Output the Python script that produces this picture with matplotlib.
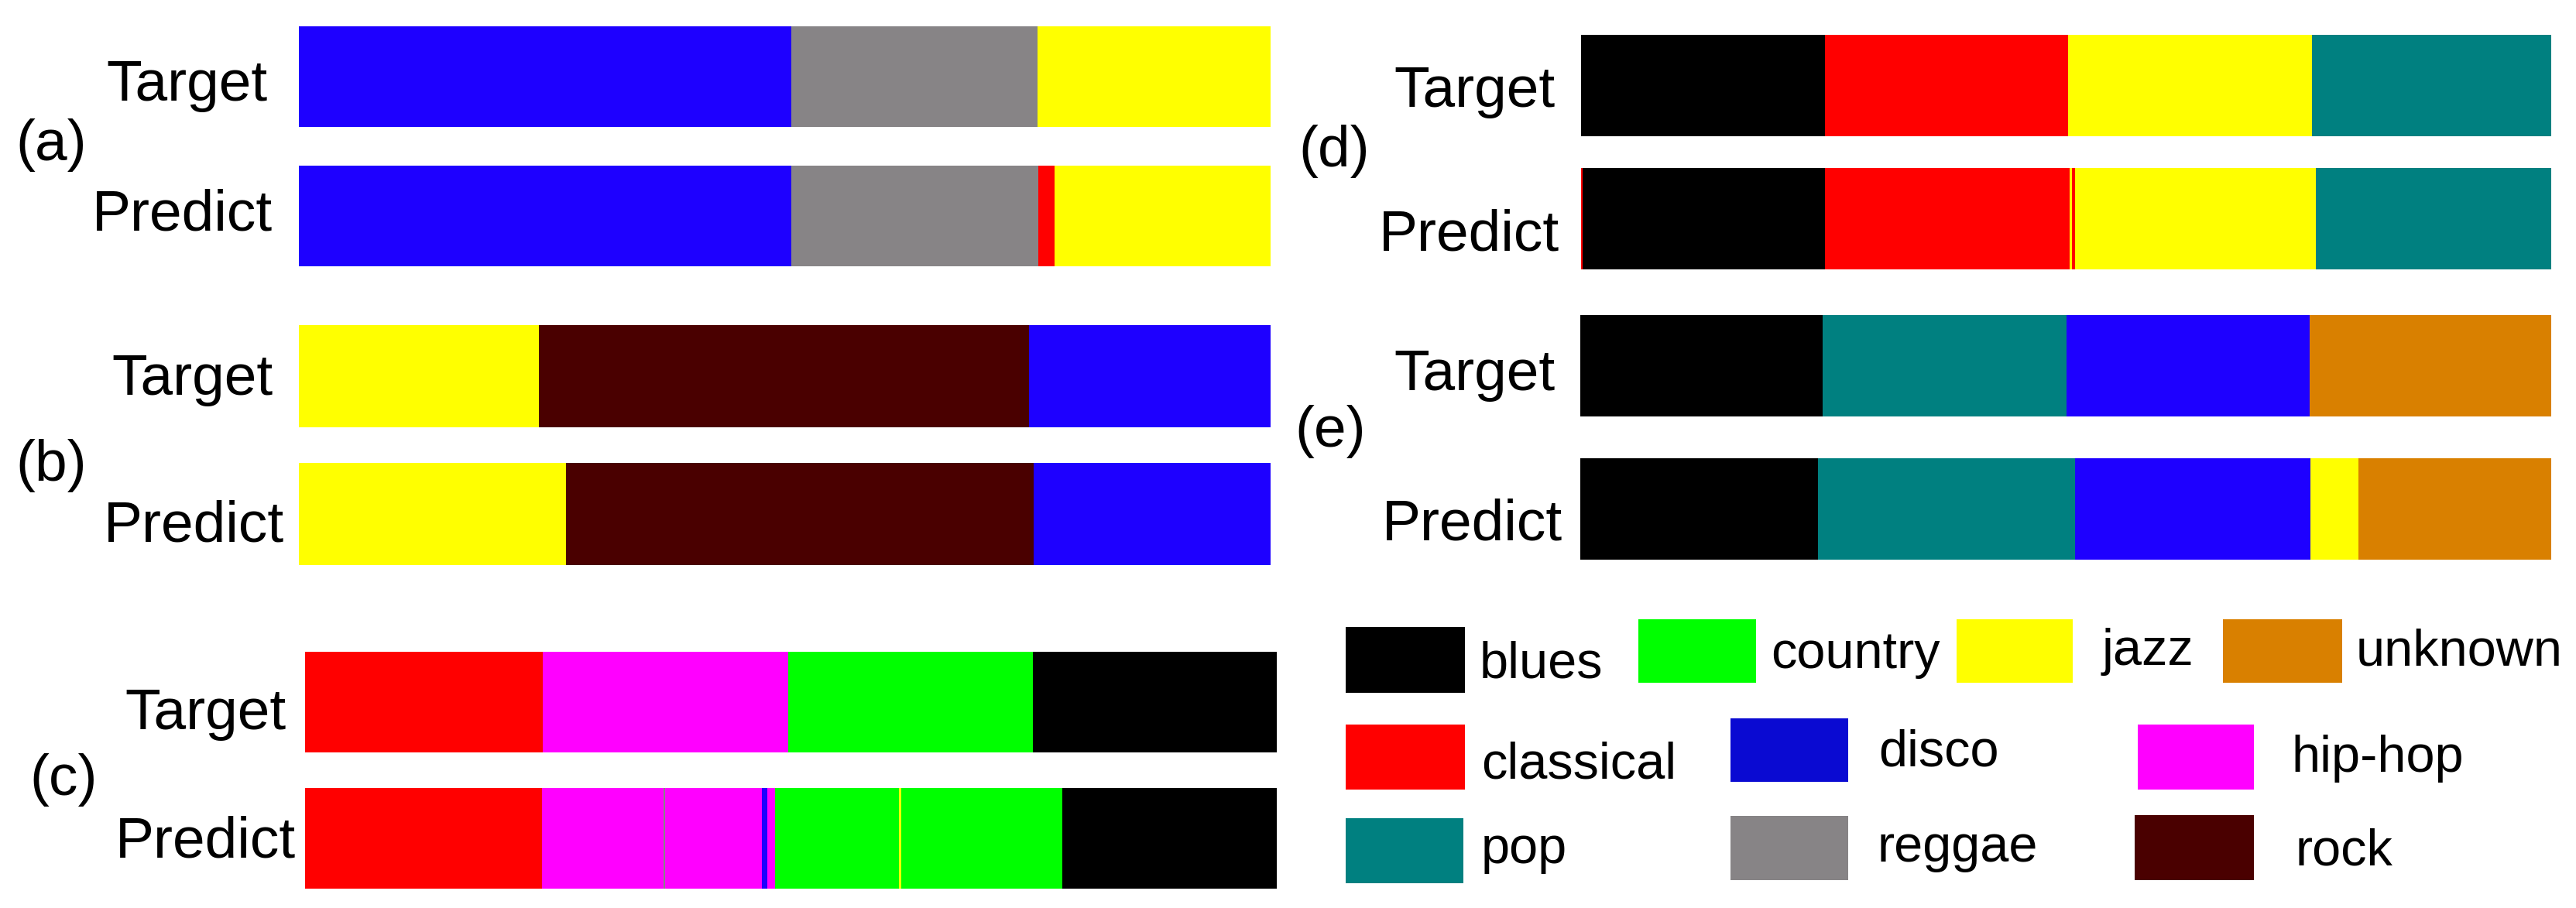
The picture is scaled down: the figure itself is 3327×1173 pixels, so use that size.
import matplotlib.pyplot as plt
from matplotlib.patches import Rectangle

plt.rcParams['font.family'] = ['Liberation Sans', 'DejaVu Sans']

W, H = 3327, 1173

# genre colours
genres = ['blues', 'country', 'jazz', 'unknown', 'classical', 'disco',
          'hip-hop', 'pop', 'reggae', 'rock']
bar_colors = ['#000000', '#00FF00', '#FFFF00', '#D98000', '#FF0000', '#1E00FF',
              '#FF00FF', '#008080', '#878486', '#4A0000']
legend_colors = ['#000000', '#00FF00', '#FFFF00', '#D98000', '#FF0000', '#0A0AD2',
                 '#FF00FF', '#008080', '#878486', '#4A0000']

# segments left to right: (genre, share of the clip in %)
a_target = [('disco', 50.7), ('reggae', 25.3), ('jazz', 24.0)]
a_predict = [('disco', 50.7), ('reggae', 25.4), ('classical', 1.7), ('jazz', 22.2)]
b_target = [('jazz', 24.7), ('rock', 50.4), ('disco', 24.9)]
b_predict = [('jazz', 27.5), ('rock', 48.1), ('disco', 24.4)]
c_target = [('classical', 24.5), ('hip-hop', 25.2), ('country', 25.2), ('blues', 25.1)]
c_predict = [('classical', 24.4), ('hip-hop', 12.5), ('reggae', 0.15), ('hip-hop', 9.9),
             ('disco', 0.6), ('hip-hop', 0.8), ('country', 12.7), ('jazz', 0.3),
             ('country', 16.5), ('blues', 22.1)]
d_target = [('blues', 25.1), ('classical', 25.1), ('jazz', 25.1), ('pop', 24.7)]
d_predict = [('classical', 0.16), ('blues', 24.96), ('classical', 25.3), ('jazz', 0.24),
             ('classical', 0.32), ('jazz', 24.8), ('pop', 24.3)]
e_target = [('blues', 25.0), ('pop', 25.1), ('disco', 25.1), ('unknown', 24.9)]
e_predict = [('blues', 24.5), ('pop', 26.5), ('disco', 24.3), ('jazz', 4.9), ('unknown', 19.9)]

panels = ['(a)', '(b)', '(c)', '(d)', '(e)']
rows = [(a_target, a_predict), (b_target, b_predict), (c_target, c_predict),
        (d_target, d_predict), (e_target, e_predict)]

# layout in pixels: x0, x1, target top, target bottom, predict top, predict bottom
boxes = [(386, 1641, 34, 164, 213, 344),
         (386, 1641, 420, 552, 598, 730),
         (394, 1649, 842, 972, 1018, 1148),
         (2042, 3295, 45, 177, 217, 348),
         (2041, 3295, 407, 538, 592, 723)]
# right edge / baseline of the row names
name_pos = [((345, 130), (352, 298)),
            ((352, 510), (367, 700)),
            ((369, 942), (382, 1108)),
            ((2008, 138), (2014, 324)),
            ((2008, 504), (2018, 698))]
# left edge / vertical centre of the panel letters
letter_pos = [(20, 187), (20, 602), (38, 1007), (1677, 195), (1672, 558)]

color_of = dict(zip(genres, bar_colors))


def fx(x):
    return x / W


def fy(y):
    return 1 - y / H


fig = plt.figure(figsize=(W / 100, H / 100), dpi=100)

for label, (target, predict), box, names, lp in zip(panels, rows, boxes, name_pos, letter_pos):
    x0, x1, tt, tb, pt, pb = box
    ax = fig.add_axes([fx(x0), fy(pb), (x1 - x0) / W, (pb - tt) / H])
    dist = (pt + pb) / 2 - (tt + tb) / 2
    h = ((tb - tt) + (pb - pt)) / 2 / dist
    for i, segs in enumerate([target, predict]):
        total = sum(v for _, v in segs)
        widths = [v / total * 100 for _, v in segs]
        lefts = [sum(widths[:k]) for k in range(len(widths))]
        ax.barh([i] * len(segs), widths, left=lefts, height=h,
                color=[color_of[g] for g, _ in segs], linewidth=0)
    ax.set_xlim(0, 100)
    ax.set_ylim(1 + h / 2, -h / 2)
    ax.axis('off')

    for txt, (rx, by) in zip(['Target', 'Predict'], names):
        fig.text(fx(rx), fy(by), txt, ha='right', va='baseline', fontsize=54)
    fig.text(fx(lp[0]), fy(lp[1]), label, ha='left', va='center', fontsize=54)

# legend, laid out like the original (patch box, text left, text baseline)
legend_layout = {
    'blues': ((1738, 1892, 810, 895), 1911, 875),
    'country': ((2116, 2268, 800, 882), 2287, 863),
    'jazz': ((2527, 2677, 800, 882), 2715, 859),
    'unknown': ((2871, 3025, 800, 882), 3043, 859),
    'classical': ((1738, 1892, 936, 1020), 1913, 1005),
    'disco': ((2235, 2387, 928, 1010), 2426, 990),
    'hip-hop': ((2761, 2911, 936, 1020), 2959, 997),
    'pop': ((1738, 1890, 1057, 1141), 1913, 1115),
    'reggae': ((2235, 2387, 1054, 1137), 2424, 1113),
    'rock': ((2757, 2911, 1053, 1137), 2964, 1117),
}
for g, c in zip(genres, legend_colors):
    (px0, px1, py0, py1), tx, ty = legend_layout[g]
    fig.patches.append(Rectangle((fx(px0), fy(py1)), (px1 - px0) / W, (py1 - py0) / H,
                                 transform=fig.transFigure, facecolor=c, edgecolor='none'))
    fig.text(fx(tx), fy(ty), g, ha='left', va='baseline', fontsize=48)

fig.savefig('out.png', dpi=100)
